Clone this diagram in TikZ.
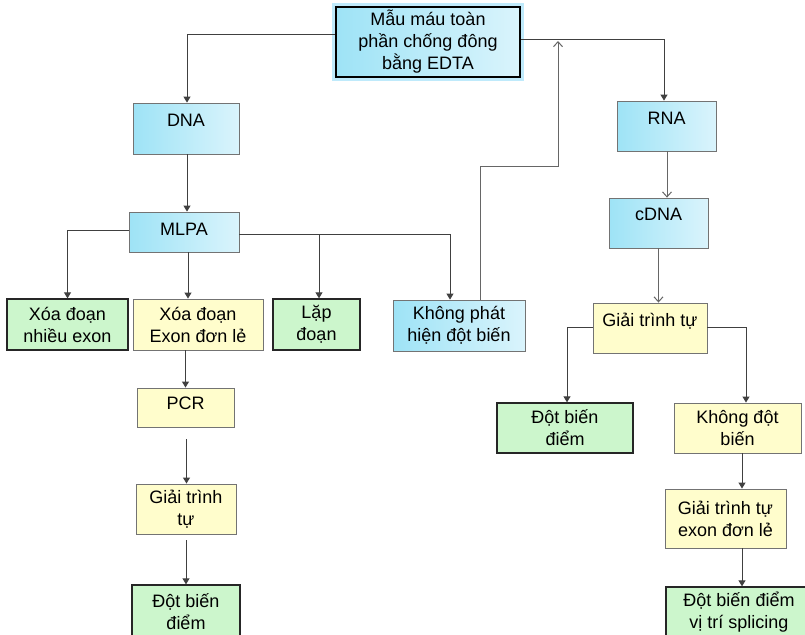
\documentclass[tikz,border=0pt]{standalone}
\usepackage{fontspec}
\setmainfont{Liberation Sans}
\usepackage{tikz}
\usetikzlibrary{arrows.meta}
\definecolor{blueA}{RGB}{158,227,246}
\definecolor{blueB}{RGB}{218,244,252}
\definecolor{boxyellow}{RGB}{255,253,204}
\definecolor{boxgreen}{RGB}{204,246,204}
\definecolor{linegray}{RGB}{64,64,64}
\begin{document}
\begin{tikzpicture}
	[x=1pt,y=-1pt,
	font=\fontsize{18}{22}\selectfont,
	box/.style={rectangle,align=center,inner xsep=4pt},
	bluebox/.style={box,draw=black!55,line width=0.8pt,left color=blueA,right color=blueB},
	yellowbox/.style={box,draw=black!55,line width=0.9pt,fill=boxyellow},
	greenbox/.style={box,draw=black!85,line width=1.3pt,fill=boxgreen},
	toptext/.style 2 args={inner ysep=0pt,text height=#1,text depth=#2},
	arr/.style={draw=linegray,line width=1pt,-{Triangle[length=6pt,width=7pt]}},
	openarr/.style={draw=black!60,line width=1pt,-{Straight Barb[length=5pt,width=9pt]}}]
	\useasboundingbox (0,0) rectangle (805,634);
	\clip (0,0) rectangle (805,634);
	\node[box,draw=black,line width=2.5pt,left color=blueA,right color=blueB,
		preaction={draw=cyan!25,line width=8pt},
		minimum width=184pt,minimum height=70pt] (top) at (428,42)
		{Mẫu máu toàn\\phần chống đông\\bằng EDTA};
	\node[bluebox,toptext={23pt}{28pt},minimum width=106pt] (dna) at (186,128.5) {DNA};
	\node[bluebox,toptext={23pt}{17pt},minimum width=110pt] (mlpa) at (184,232) {MLPA};
	\node[bluebox,toptext={23pt}{27pt},minimum width=99pt] (rna) at (666.5,126) {RNA};
	\node[bluebox,toptext={22pt}{28pt},minimum width=99pt] (cdna) at (658.5,223) {cDNA};
	\node[yellowbox,toptext={23pt}{27pt},minimum width=114pt] (gttr) at (650,328) {Giải trình tự};
	\node[greenbox,minimum width=121pt,minimum height=51pt] (xnhieu) at (67.5,324.5) {Xóa đoạn\\nhiều exon};
	\node[yellowbox,minimum width=130pt,minimum height=51pt] (xdon) at (198,324.5) {Xóa đoạn\\Exon đơn lẻ};
	\node[greenbox,minimum width=87pt,minimum height=51pt] (lap) at (316.5,324.5) {Lặp\\đoạn};
	\node[bluebox,minimum width=132pt,minimum height=51pt] (kp) at (459,325.5) {Không phát\\hiện đột biến};
	\node[yellowbox,toptext={21pt}{18pt},minimum width=97pt] (pcr) at (185.5,407.5) {PCR};
	\node[yellowbox,minimum width=100pt,minimum height=50pt] (gttl) at (186,509) {Giải trình\\tự};
	\node[greenbox,minimum width=108pt,minimum height=54pt] (dbdl) at (186,612) {Đột biến\\điểm};
	\node[greenbox,minimum width=136pt,minimum height=50pt] (dbdr) at (565,428) {Đột biến\\điểm};
	\node[yellowbox,minimum width=127pt,minimum height=50pt] (kdb) at (737.5,428) {Không đột\\biến};
	\node[yellowbox,minimum width=121pt,minimum height=59pt] (gtte) at (725.5,518.5) {Giải trình tự\\exon đơn lẻ};
	\node[greenbox,minimum width=146pt,minimum height=51pt] (spl) at (739,612.5) {Đột biến điểm\\vị trí splicing};
	\coordinate (back) at (558,41);
	\draw[arr] ([yshift=7pt]top.west) -| ([xshift=1pt]dna.north);
	\draw[arr] ([yshift=2pt]top.east) -| ([xshift=-2.5pt]rna.north);
	\draw[arr] ([xshift=1pt]dna.south) -- ([xshift=1pt]dna.south |- mlpa.north);
	\draw[arr] ([yshift=2pt]mlpa.west) -| (xnhieu.north);
	\draw[arr] ([xshift=4pt]mlpa.south) -- ([xshift=4pt]mlpa.south |- xdon.north);
	\draw[arr] ([yshift=-2pt]mlpa.east) -| ([xshift=2.5pt]lap.north);
	\draw[arr] ([yshift=-2pt]mlpa.east) -| ([xshift=-9pt]kp.north);
	\draw[openarr] ([xshift=21pt]kp.north) -- ++(0,-133) -| (back);
	\draw[openarr] ([xshift=0.5pt]rna.south) -- ([xshift=0.5pt]rna.south |- cdna.north);
	\draw[openarr] (cdna.south) -- (cdna.south |- gttr.north);
	\draw[arr] ([yshift=1pt]gttr.west) -| ([xshift=2pt]dbdr.north);
	\draw[arr] ([yshift=1pt]gttr.east) -| ([xshift=8.5pt]kdb.north);
	\draw[arr] ([xshift=4.5pt]kdb.south) -- ([xshift=4.5pt]kdb.south |- gtte.north);
	\draw[arr] ([xshift=16.5pt]gtte.south) -- ([xshift=16.5pt]gtte.south |- spl.north);
	\draw[arr] (pcr.north |- xdon.south) -- (pcr.north);
	\draw[arr,shorten <=12pt] ([xshift=1pt]pcr.south) -- ([xshift=1pt]pcr.south |- gttl.north);
	\draw[arr,shorten <=6pt] (gttl.south) -- (gttl.south |- dbdl.north);
\end{tikzpicture}
\end{document}
